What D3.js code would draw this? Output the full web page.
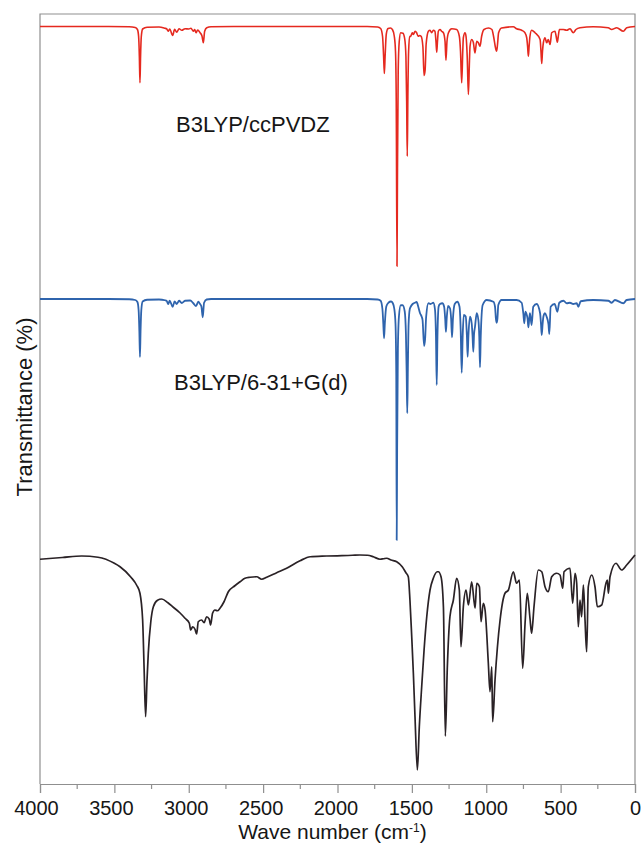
<!DOCTYPE html>
<html>
<head>
<meta charset="utf-8">
<script src="https://cdn.jsdelivr.net/npm/d3@7"></script>
<style>
  html, body { margin: 0; padding: 0; background: #fff; }
  svg { display: block; font-family: "Liberation Sans", Arial, Helvetica, sans-serif; }
</style>
</head>
<body>
<div id="chart"></div>
<script>
// x axis ticks (cm-1)
const majorTicks = [4000, 3500, 3000, 2500, 2000, 1500, 1000, 500, 0];
const minorTicks = [3750, 3250, 2750, 2250, 1750, 1250, 750, 250];

const traceLabels = ['B3LYP/ccPVDZ', 'B3LYP/6-31+G(d)'];

// [wave number, transmittance %]
const ccpvdz = [
  [4000,100],[3600,100],[3400,99.9],[3360,99.6],[3345,98.8],[3337,96],[3332,88],[3328,77.5],[3324,88],[3319,96],
  [3310,99],[3280,99.7],[3200,99.8],[3160,99.3],[3149,99.1],[3138,98.1],[3128,99],[3108,96.4],[3095,98.9],[3081,97.7],
  [3065,99.1],[3047,98.5],[3025,99.1],[3000,99],[2985,99.3],[2969,98.1],[2960,98.8],[2951,97.5],[2940,98.6],[2924,97.5],
  [2911,96.2],[2902,93.5],[2893,98.1],[2879,99.5],[2850,99.9],[2700,100],[1800,100],[1730,99.8],[1710,99.2],[1697,96],
  [1690,88],[1685,81.2],[1680,88],[1672,97],[1660,99.2],[1645,99.4],[1630,98.7],[1618,96],[1610,90],[1605,70],
  [1600,4.1],[1597,40],[1592,82],[1585,94],[1575,97.5],[1560,97.3],[1548,95],[1540,88],[1535,70],[1531,48.1],
  [1527,72],[1522,90],[1514,96],[1508,96.1],[1497,97.5],[1490,96.8],[1478,98.1],[1468,97.5],[1458,96.1],[1448,96.4],
  [1438,96.1],[1426,92],[1418,80.4],[1411,82.5],[1404,93],[1389,98.1],[1378,98.5],[1367,97.5],[1356,98.5],[1345,98.1],
  [1338,94],[1333,89.7],[1328,94],[1322,98.1],[1311,98.8],[1300,98.1],[1288,97.5],[1277,94],[1271,86.5],[1264,94],
  [1254,97.5],[1232,99.1],[1199,98.8],[1181,96.1],[1173,90],[1165,77.5],[1158,90],[1154,95.5],[1143,97.5],[1136,96.1],
  [1128,88],[1120,72.8],[1113,86],[1109,92.1],[1098,94.8],[1087,93.7],[1076,89.4],[1064,94.1],[1053,93.5],[1042,92.1],
  [1031,96.1],[1015,98.8],[985,99.4],[962,98.8],[951,96.1],[936,91],[930,90.1],[924,93],[917,97.5],[897,99.4],
  [818,99.9],[796,99.1],[762,98.5],[740,97.5],[728,95.5],[722,92],[717,88.1],[712,92],[706,96.1],[695,98.5],
  [672,97.5],[638,94.8],[632,90],[627,85.2],[622,90],[616,93.5],[605,95.5],[594,93.5],[583,94.8],[571,92.8],
  [560,97.5],[538,98.1],[527,95],[522,93.7],[516,96],[508,98.8],[482,98.8],[459,98.5],[437,99.1],[415,97.5],
  [397,98.8],[370,99.5],[281,99.9],[180,99.5],[157,98.8],[123,99.5],[78,98.1],[56,99.5],[0,100]
];

const b631g = [
  [4000,100],[3600,100],[3400,99.9],[3360,99.6],[3345,98.8],[3337,95.5],[3332,87],[3328,76.8],[3324,87],[3319,95.5],
  [3310,99],[3280,99.7],[3200,99.8],[3160,99.5],[3149,99.3],[3138,98],[3128,99.3],[3108,96.9],[3095,99],[3081,98],
  [3065,99.3],[3047,98.4],[3025,99.3],[2990,99.4],[2969,98.3],[2951,97.2],[2936,98.9],[2924,98],[2915,97],[2906,92.7],
  [2897,98.5],[2880,99.8],[2850,100],[1800,100],[1730,99.8],[1710,99.3],[1698,96],[1692,90],[1687,84.3],[1682,90],
  [1672,97],[1658,98.5],[1640,99],[1628,98.3],[1618,96],[1610,90],[1605,70],[1602,3.6],[1599,40],[1594,80],
  [1587,93],[1575,97.5],[1562,97.5],[1548,95],[1540,86],[1535,70],[1531,54.3],[1527,72],[1522,90],[1514,96],
  [1508,96.9],[1495,98],[1480,98.5],[1468,98.8],[1457,96.9],[1445,94.3],[1434,92.9],[1428,91.5],[1418,81.2],[1411,84],
  [1404,92.9],[1389,98.3],[1374,98],[1356,98.5],[1345,96],[1338,85],[1333,65.6],[1328,85],[1320,97],[1311,98],
  [1295,98.3],[1283,96.9],[1276,92],[1271,86.9],[1266,92],[1257,97.2],[1244,96.3],[1236,92],[1230,84.7],[1224,92],
  [1212,98],[1195,98.9],[1180,97],[1172,88],[1165,70.5],[1158,86],[1151,93.6],[1138,93],[1130,85],[1125,76.9],
  [1120,85],[1109,92.9],[1098,90.3],[1092,85],[1087,78.9],[1082,86],[1076,88.7],[1064,94.3],[1053,91.6],[1047,85],
  [1042,72.7],[1037,85],[1024,97.6],[997,99.6],[952,98.9],[941,96.9],[935,92],[930,90.5],[925,92],[919,97.6],
  [897,99.6],[796,99.6],[762,98.5],[751,94.3],[744,90.3],[737,94.9],[728,93.7],[722,92],[717,88.7],[711,92],
  [706,94.3],[695,89.6],[684,96.9],[661,98],[638,94.3],[632,90],[627,85.6],[621,90],[616,92.9],[605,94.3],
  [594,92.9],[582,90],[576,86],[567,96.9],[540,98],[522,94.9],[509,98.5],[481,99.3],[459,98.3],[437,98.5],
  [415,98],[392,98.3],[381,96.9],[365,99.1],[280,99.6],[179,99.3],[157,98.5],[135,99.6],[78,98.3],[56,99.6],[0,100]
];

const experimental = [
  [4000,98.9],[3850,99.6],[3720,100.2],[3610,99.7],[3500,97.3],[3462,95.9],[3390,91.8],[3350,88.5],[3328,85.3],[3310,74.6],
  [3300,55],[3290,35.9],[3281,50],[3272,61.3],[3255,74],[3238,79.9],[3210,82.5],[3182,83],[3140,81.5],[3104,79.7],
  [3060,77.5],[3025,75.3],[2996,73.3],[2987,70.6],[2974,71.9],[2958,70.9],[2947,69],[2936,73.9],[2913,74.6],[2897,73.5],
  [2880,75.9],[2862,74.9],[2853,72.6],[2840,77.3],[2824,78.6],[2808,78.3],[2790,79.3],[2763,81.9],[2734,85.9],[2690,88.3],
  [2655,89.9],[2622,91.3],[2588,91.7],[2543,91.9],[2510,90.9],[2476,91.7],[2409,93.5],[2342,95.3],[2252,98.3],[2183,99.9],
  [2073,100.2],[1900,100.5],[1849,100.6],[1798,100.5],[1759,99.9],[1714,98.9],[1690,99.1],[1669,99.3],[1640,98.6],[1602,97.9],
  [1565,95.9],[1540,93.5],[1524,91.9],[1513,82.6],[1501,67.9],[1490,53.3],[1479,35.9],[1463,14.6],[1450,31.9],[1434,47.9],
  [1418,62.6],[1400,75.9],[1378,86.6],[1356,91.3],[1329,93.9],[1322,93.9],[1304,91.9],[1288,79.9],[1275,28.2],[1262,55],
  [1244,76],[1221,82.6],[1199,91.3],[1181,86.6],[1170,63.9],[1154,79.9],[1136,86.6],[1120,80.6],[1098,89.9],[1075,79.3],
  [1064,89.3],[1046,87.9],[1035,73.9],[1020,81.3],[1008,78.6],[986,57.3],[975,45.9],[963,55.9],[957,33.9],[941,50.6],
  [907,74.6],[874,85.3],[851,86.6],[818,93.9],[796,89.3],[777,90.6],[755,55.3],[739,73.3],[724,85.3],[706,75.3],
  [695,69.3],[679,79.9],[650,94.6],[627,93.9],[605,87.9],[583,85.9],[560,91.9],[527,93.3],[504,92.6],[486,87.3],
  [477,93.9],[437,95.3],[419,81.3],[403,93.3],[392,89.3],[381,71.9],[370,82.6],[359,75.9],[347,88.6],[336,74.6],
  [325,61.9],[314,87.9],[291,92.6],[269,87.9],[253,79.9],[224,80.6],[195,89.3],[186,90.6],[179,85.3],[168,91.9],
  [128,97.3],[90,94.6],[56,96.6],[0,100.6]
];

const width = 641, height = 844;
const plotLeft = 40, plotRight = 635, plotTop = 14, plotBottom = 784;

const svg = d3.select('#chart').append('svg')
  .attr('width', width)
  .attr('height', height);

const x = d3.scaleLinear().domain([4000, 0]).range([plotLeft, plotRight]);
// stacked traces share one scale, each shifted by an offset in % units
const y = d3.scaleLinear().domain([0, 308]).range([plotBottom, plotTop]);

const traces = [
  { data: ccpvdz, offset: 203, color: '#e5291f', width: 1.6 },
  { data: b631g, offset: 94, color: '#2f64ad', width: 1.8 },
  { data: experimental, offset: -9, color: '#2a2226', width: 1.7 }
];

// frame
const frameColor = '#8f8f8f';
svg.append('path')
  .attr('d', `M${plotLeft},${plotBottom}V${plotTop}H${plotRight}V${plotBottom}`)
  .attr('fill', 'none')
  .attr('stroke', frameColor)
  .attr('stroke-width', 1.2);

traces.forEach(t => {
  const line = d3.line()
    .x(d => x(d[0]))
    .y(d => y(d[1] + t.offset))
    .curve(d3.curveMonotoneX);
  svg.append('path')
    .datum(t.data)
    .attr('d', line)
    .attr('fill', 'none')
    .attr('stroke', t.color)
    .attr('stroke-width', t.width)
    .attr('stroke-linejoin', 'round');
});

// x axis
const xAxis = svg.append('g')
  .attr('transform', `translate(0,${plotBottom})`)
  .call(d3.axisBottom(x).tickValues(majorTicks).tickSize(9).tickPadding(8).tickFormat(d3.format('d')));
xAxis.select('.domain').attr('stroke', frameColor).attr('stroke-width', 1.2);
xAxis.selectAll('.tick line').attr('stroke', frameColor).attr('stroke-width', 1.2);
xAxis.selectAll('.tick text')
  .attr('fill', '#161616')
  .attr('dx', d => -4 * d / 4000)
  .style('font-size', '20px')
  .style('font-family', '"Liberation Sans", Arial, sans-serif');

svg.append('g')
  .attr('transform', `translate(0,${plotBottom})`)
  .selectAll('line')
  .data(minorTicks)
  .join('line')
  .attr('x1', d => x(d)).attr('x2', d => x(d))
  .attr('y1', 0).attr('y2', 5)
  .attr('stroke', frameColor)
  .attr('stroke-width', 1.2);

// axis titles
const xTitle = svg.append('text')
  .attr('x', (plotLeft + plotRight) / 2 - 5)
  .attr('y', 839)
  .attr('text-anchor', 'middle')
  .attr('fill', '#161616')
  .style('font-size', '21px');
xTitle.append('tspan').text('Wave number (cm');
xTitle.append('tspan').attr('dy', -7).style('font-size', '12px').text('-1');
xTitle.append('tspan').attr('dy', 7).text(')');

svg.append('text')
  .attr('transform', `translate(32,${(plotTop + plotBottom) / 2 + 8}) rotate(-90)`)
  .attr('text-anchor', 'middle')
  .attr('fill', '#161616')
  .style('font-size', '22px')
  .text('Transmittance (%)');

// trace labels
svg.append('text')
  .attr('x', 176).attr('y', 132)
  .attr('fill', '#161616')
  .style('font-size', '22px')
  .text(traceLabels[0]);

svg.append('text')
  .attr('x', 174).attr('y', 390)
  .attr('fill', '#161616')
  .style('font-size', '22px')
  .text(traceLabels[1]);
</script>
</body>
</html>
